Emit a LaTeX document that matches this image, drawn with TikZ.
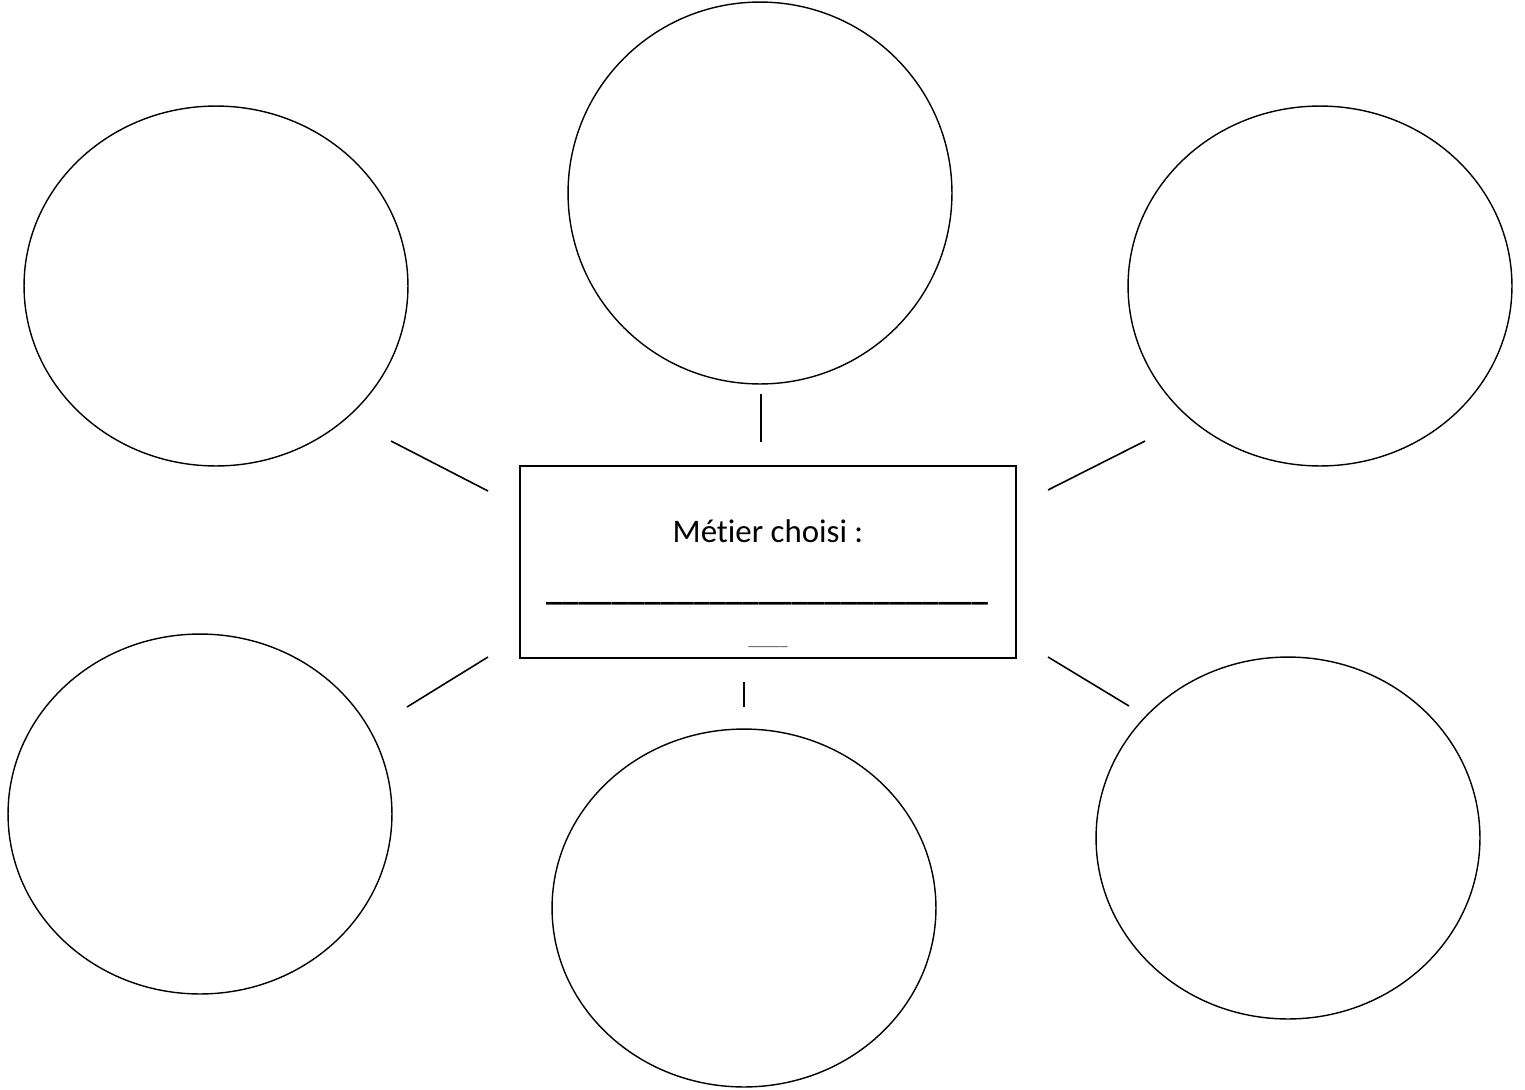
\documentclass[tikz,border=0pt]{standalone}
\usepackage{fontspec}
\setmainfont{Carlito}[Ligatures=NoCommon]
\usetikzlibrary{shapes.geometric}
\begin{document}
\begin{tikzpicture}[x=0.02cm,y=-0.02cm,
  bubble/.style={draw,ellipse,line width=0.8pt,minimum width=7.68cm,minimum height=7.2cm,inner sep=0pt},
  link/.style={line width=0.9pt},
  centerbox/.style={draw,line width=1.1pt,minimum width=9.92cm,minimum height=3.84cm,inner sep=0pt}]
\useasboundingbox (0,0) rectangle (1525,1089);
\node[bubble] (tl) at (216,286) {};
\node[bubble,minimum height=7.64cm] (tc) at (760,193) {};
\node[bubble] (tr) at (1320,286) {};
\node[bubble] (bl) at (200,814) {};
\node[bubble,minimum height=7.16cm] (bc) at (744,908) {};
\node[bubble,minimum height=7.24cm] (br) at (1288,838) {};
\node[centerbox] (box) at (768,562) {};
\node[font=\fontsize{18.7}{22}\selectfont] (title) at (768,531) {Métier choisi :};
\node[font=\fontsize{18.7}{22}\selectfont\bfseries,inner sep=0pt,anchor=base] (blank) at (767,600) {\_\_\_\_\_\_\_\_\_\_\_\_\_\_\_\_\_\_\_\_\_\_\_\_\_\_\_};
\node[font=\fontsize{9}{11}\selectfont,text=black!70,inner sep=0pt,anchor=base] (blank2) at (768,645) {\_\_\_\_\_};
\coordinate (a1) at (391,441); \coordinate (a2) at (488,491);
\coordinate (b1) at (761,394); \coordinate (b2) at (761,442);
\coordinate (c1) at (1145,441); \coordinate (c2) at (1048,490);
\coordinate (d1) at (488,657); \coordinate (d2) at (407,707);
\coordinate (e1) at (744,682); \coordinate (e2) at (744,707);
\coordinate (f1) at (1048,657); \coordinate (f2) at (1129,706);
\draw[link] (a1) -- (a2);
\draw[link] (b1) -- (b2);
\draw[link] (c1) -- (c2);
\draw[link] (d1) -- (d2);
\draw[link] (e1) -- (e2);
\draw[link] (f1) -- (f2);
\end{tikzpicture}
\end{document}
